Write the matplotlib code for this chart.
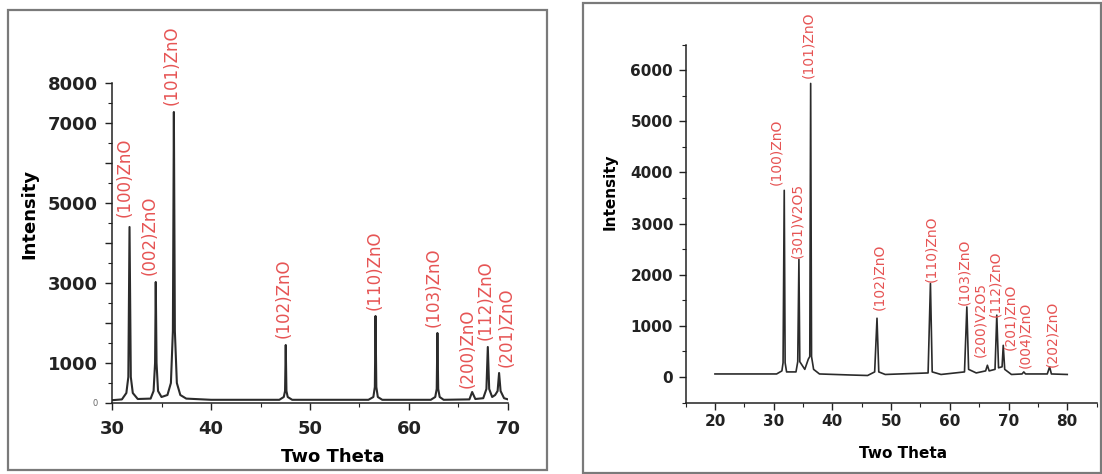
import matplotlib
matplotlib.use('Agg')
import matplotlib.pyplot as plt
from matplotlib.patches import Rectangle
from matplotlib.ticker import MultipleLocator

# XRD pattern of pure ZnO (two theta, intensity)
two_theta_zno = [30.0, 31.0, 31.45, 31.65, 31.77, 31.9, 32.1, 32.6,
                 33.9, 34.2, 34.35, 34.42, 34.5, 34.65, 35.0,
                 35.6, 35.95, 36.15, 36.25, 36.35, 36.55, 36.9, 37.5,
                 40.0, 46.9, 47.35, 47.48, 47.55, 47.62, 47.75, 48.2,
                 55.9, 56.4, 56.55, 56.62, 56.7, 56.85, 57.3,
                 62.2, 62.65, 62.8, 62.87, 62.95, 63.1, 63.5,
                 66.1, 66.38, 66.7, 67.5, 67.82, 67.96, 68.1, 68.4,
                 68.7, 68.95, 69.1, 69.25, 69.6, 70.0]
intensity_zno = [70, 90, 250, 650, 4400, 650, 250, 100,
                 110, 300, 1000, 3025, 1000, 300, 150,
                 200, 500, 1800, 7275, 1800, 500, 200, 110,
                 80, 80, 150, 300, 1450, 300, 150, 80,
                 80, 150, 400, 2175, 400, 150, 80,
                 80, 150, 350, 1750, 350, 150, 80,
                 90, 275, 100, 120, 350, 1400, 350, 150,
                 200, 300, 750, 300, 120, 90]

# XRD pattern of V2O5 / ZnO
two_theta_vzno = [20.0, 30.5, 31.4, 31.6, 31.8, 31.95, 32.2,
                  33.8, 34.1, 34.3, 34.45, 35.3,
                  35.9, 36.15, 36.3, 36.45, 36.8, 37.8,
                  43.0, 46.0, 47.2, 47.6, 47.9, 49.0,
                  56.3, 56.7, 57.0, 58.5,
                  62.5, 62.9, 63.2, 64.5,
                  66.1, 66.4, 66.7, 67.7, 68.0, 68.3,
                  68.9, 69.1, 69.35, 70.5,
                  72.3, 72.6, 72.9, 76.6, 77.0, 77.3, 80.0]
intensity_vzno = [60, 60, 120, 280, 3650, 280, 100,
                  100, 300, 2300, 300, 150,
                  350, 400, 5740, 400, 150, 60,
                  40, 30, 100, 1150, 100, 50,
                  80, 1830, 100, 50,
                  100, 1370, 150, 80,
                  120, 230, 120, 150, 1210, 180,
                  200, 620, 150, 50,
                  60, 100, 60, 60, 200, 60, 50]

# peak labels: text, x and bottom y of each label
labels_zno = ['(100)ZnO', '(002)ZnO', '(101)ZnO', '(102)ZnO', '(110)ZnO',
              '(103)ZnO', '(200)ZnO', '(112)ZnO', '(201)ZnO']
label_x_zno = [31.3, 33.85, 36.05, 47.3, 56.55, 62.45, 65.95, 67.7, 69.85]
label_y_zno = [4650, 3200, 7450, 1625, 2325, 1900, 375, 1575, 900]

labels_vzno = ['(100)ZnO', '(301)V2O5', '(101)ZnO', '(102)ZnO', '(110)ZnO',
               '(103)ZnO', '(200)V2O5', '(112)ZnO', '(201)ZnO', '(004)ZnO',
               '(202)ZnO']
label_x_vzno = [30.4, 34.0, 35.95, 47.9, 56.9, 62.4, 65.2, 67.75, 70.3,
                72.9, 77.4]
label_y_vzno = [3750, 2325, 5840, 1310, 1855, 1405, 390, 1170, 530, 175, 195]

RED = '#e65454'
LINE = '#2b2b2b'

fig = plt.figure(figsize=(11.02, 4.74), dpi=100)
W, H = 1102, 474

# panel borders
fig.add_artist(Rectangle((8 / W, 4 / H), 539 / W, 460 / H, transform=fig.transFigure,
                         fill=False, ec='#7a7a7a', lw=1.6))
fig.add_artist(Rectangle((583 / W, 1 / H), 518 / W, 470 / H, transform=fig.transFigure,
                         fill=False, ec='#7a7a7a', lw=1.6))


def style_axes(ax, fs, xpad, ypad):
    for s in ['top', 'right']:
        ax.spines[s].set_visible(False)
    for s in ['left', 'bottom']:
        ax.spines[s].set_linewidth(1.1)
        ax.spines[s].set_color('#222222')
    ax.tick_params(which='major', direction='out', length=5, width=1,
                   labelsize=fs, colors='#222222')
    ax.tick_params(which='minor', direction='out', length=3, width=0.8,
                   colors='#222222')
    ax.tick_params(axis='x', which='major', pad=xpad)
    ax.tick_params(axis='y', which='major', pad=ypad)
    for t in ax.get_xticklabels() + ax.get_yticklabels():
        t.set_fontweight('bold')


# left: ZnO
ax1 = fig.add_axes([112 / W, 71 / H, 396 / W, 320 / H])
ax1.plot(two_theta_zno, intensity_zno, color=LINE, lw=1.5)
ax1.set_xlim(30, 70)
ax1.set_ylim(0, 8000)
ax1.set_xticks([30, 40, 50, 60, 70])
ax1.xaxis.set_minor_locator(MultipleLocator(5))
ax1.set_yticks(range(0, 8001, 1000))
ax1.set_yticklabels(['0', '1000', '', '3000', '', '5000', '', '7000', '8000'])
ax1.yaxis.set_minor_locator(MultipleLocator(500))
style_axes(ax1, 13, 7, 5)
zero = ax1.get_yticklabels()[0]
zero.set_fontsize(6)
zero.set_fontweight('normal')
zero.set_color('#666666')
ax1.set_xlabel('Two Theta', fontsize=13, fontweight='bold')
ax1.xaxis.set_label_coords(0.558, -0.14)
ax1.set_ylabel('Intensity', fontsize=13, fontweight='bold')
ax1.yaxis.set_label_coords(-0.185, 0.59)
for s, x, y in zip(labels_zno, label_x_zno, label_y_zno):
    ax1.text(x, y, s, rotation=90, ha='center', va='bottom', color=RED,
             fontsize=12)

# right: V2O5 / ZnO
ax2 = fig.add_axes([685.6 / W, 71.4 / H, 411 / W, 358 / H])
ax2.plot(two_theta_vzno, intensity_vzno, color=LINE, lw=1.2)
ax2.set_xlim(15, 85)
ax2.set_ylim(-500, 6500)
ax2.set_xticks(range(20, 81, 10))
ax2.xaxis.set_minor_locator(MultipleLocator(5))
ax2.set_yticks(range(0, 6001, 1000))
ax2.yaxis.set_minor_locator(MultipleLocator(500))
style_axes(ax2, 11, 3, 4)
ax2.set_xlabel('Two Theta', fontsize=11, fontweight='bold')
ax2.xaxis.set_label_coords(0.53, -0.122)
ax2.set_ylabel('Intensity', fontsize=11, fontweight='bold')
ax2.yaxis.set_label_coords(-0.165, 0.589)
for s, x, y in zip(labels_vzno, label_x_vzno, label_y_vzno):
    ax2.text(x, y, s, rotation=90, ha='center', va='bottom', color=RED,
             fontsize=10)

fig.savefig('out.png', dpi=100)
